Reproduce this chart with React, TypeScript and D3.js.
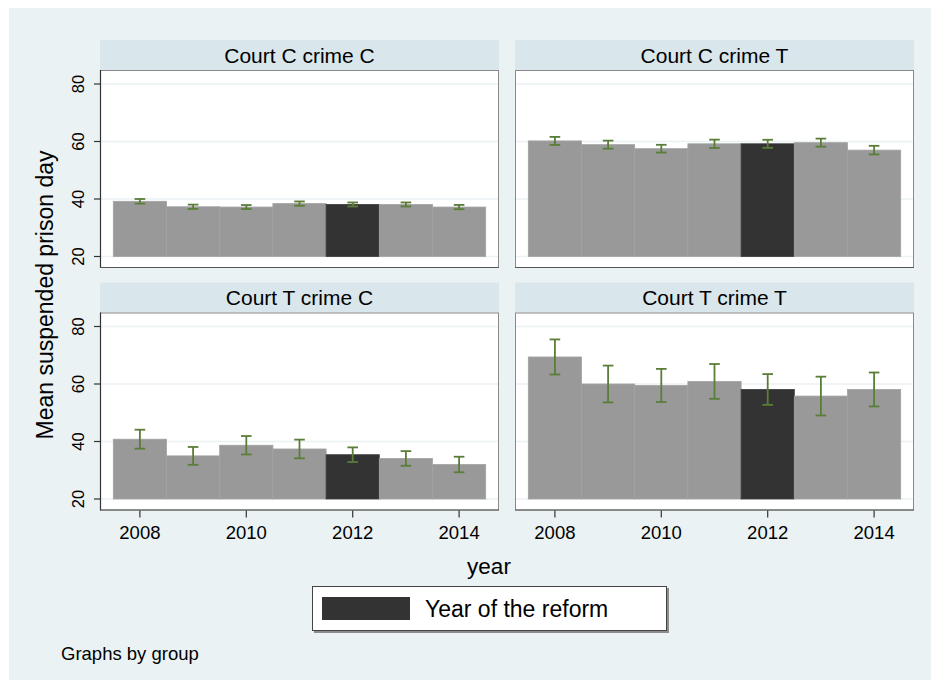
import React from "react";
import * as d3 from "d3";

const years = [2008, 2009, 2010, 2011, 2012, 2013, 2014];
const reformYear = 2012;
const panelTitles = ["Court C crime C", "Court C crime T", "Court T crime C", "Court T crime T"];
const meanCC = [39.2, 37.3, 37.2, 38.4, 38.1, 38.1, 37.2];
const ciCC = [0.8, 0.75, 0.7, 0.75, 0.7, 0.7, 0.75];
const meanCT = [60.2, 58.9, 57.5, 59.2, 59.2, 59.6, 57.0];
const ciCT = [1.4, 1.4, 1.35, 1.45, 1.4, 1.4, 1.5];
const meanTC = [40.8, 35.0, 38.7, 37.4, 35.4, 34.1, 32.0];
const ciTC = [3.3, 3.1, 3.2, 3.25, 2.55, 2.55, 2.7];
const meanTT = [69.4, 60.0, 59.5, 60.9, 58.1, 55.8, 58.1];
const ciTT = [6.1, 6.4, 5.75, 6.05, 5.35, 6.75, 5.9];
const yTicks = [20, 40, 60, 80];
const xTicks = [2008, 2010, 2012, 2014];
const yTitle = "Mean suspended prison day";
const xTitle = "year";
const legendLabel = "Year of the reform";
const note = "Graphs by group";

const means = [meanCC, meanCT, meanTC, meanTT];
const cis = [ciCC, ciCT, ciTC, ciTT];

const FONT = "'Liberation Sans', Arial, Helvetica, sans-serif";
const BG = "#eaf2f3";
const STRIP = "#d9e6eb";
const BAR = "#999999";
const BAR_DARK = "#333333";
const ERR = "#5a7d38";

const panelW = 399;
const colX = [100, 515];
const rowTop = [40, 282.5];
const stripH = 30;
const plotH = 198;

export default function App() {
  const panels = panelTitles.map((title, i) => {
    const col = i % 2;
    const row = Math.floor(i / 2);
    const x0 = colX[col];
    const top = rowTop[row];
    const pTop = top + stripH;
    const pBot = pTop + plotH;
    const x = d3.scaleLinear().domain([2007.25, 2014.75]).range([x0, x0 + panelW]);
    const y = d3.scaleLinear().domain([20, 80]).range([pTop + 186.5, pTop + 14]);
    const bw = x(2008.5) - x(2007.5);
    return (
      <g key={title}>
        <rect x={x0} y={top} width={panelW} height={stripH} fill={STRIP} />
        <text x={x0 + panelW / 2} y={top + 22.5} textAnchor="middle" fontSize={21} fill="#000">
          {title}
        </text>
        <rect x={x0 + 0.5} y={pTop + 0.5} width={panelW - 1} height={plotH - 1} fill="#fff" stroke="#8a8a8a" strokeWidth={1} />
        {yTicks.map((t) => (
          <line key={t} x1={x0 + 1} x2={x0 + panelW - 1} y1={y(t)} y2={y(t)} stroke={BG} strokeWidth={1.5} />
        ))}
        {years.map((yr, j) => (
          <rect
            key={yr}
            x={x(yr) - bw / 2}
            y={y(means[i][j])}
            width={bw}
            height={y(20) - y(means[i][j])}
            fill={yr === reformYear ? BAR_DARK : BAR}
            stroke={yr === reformYear ? "#3a3a3a" : "#a2a2a2"}
            strokeWidth={0.8}
          />
        ))}
        {years.map((yr, j) => {
          const lo = y(means[i][j] - cis[i][j]);
          const hi = y(means[i][j] + cis[i][j]);
          const cx = x(yr);
          return (
            <g key={"e" + yr} stroke={ERR} strokeWidth={1.8} fill="none">
              <line x1={cx} x2={cx} y1={lo} y2={hi} />
              <line x1={cx - 5.3} x2={cx + 5.3} y1={lo} y2={lo} />
              <line x1={cx - 5.3} x2={cx + 5.3} y1={hi} y2={hi} />
            </g>
          );
        })}
        {col === 0 && (
          <g>
            <line x1={x0 + 0.5} x2={x0 + 0.5} y1={pTop} y2={pBot} stroke="#333" strokeWidth={1.2} />
            {yTicks.map((t) => (
              <g key={"yt" + t}>
                <line x1={x0 - 6} x2={x0} y1={y(t)} y2={y(t)} stroke="#333" strokeWidth={1.2} />
                <text
                  transform={`translate(${x0 - 16},${y(t)}) rotate(-90)`}
                  textAnchor="middle"
                  fontSize={16.5}
                  fill="#000"
                >
                  {t}
                </text>
              </g>
            ))}
          </g>
        )}
        <line x1={x0} x2={x0 + panelW} y1={pBot - 0.5} y2={pBot - 0.5} stroke="#555" strokeWidth={1.2} />
        {row === 1 &&
          xTicks.map((t) => (
            <g key={"xt" + t}>
              <line x1={x(t)} x2={x(t)} y1={pBot} y2={pBot + 7} stroke="#333" strokeWidth={1.2} />
              <text x={x(t)} y={pBot + 28} textAnchor="middle" fontSize={18.5} fill="#000">
                {t}
              </text>
            </g>
          ))}
      </g>
    );
  });

  return (
    <svg
      width={935}
      height={684}
      style={{ position: "absolute", left: 0, top: 0, fontFamily: FONT }}
    >
      <rect x={0} y={0} width={935} height={684} fill="#fff" />
      <rect x={9} y={8} width={922} height={672} fill={BG} />
      {panels}
      <text transform="translate(53,295) rotate(-90)" textAnchor="middle" fontSize={23} fill="#000">
        {yTitle}
      </text>
      <text x={489} y={574} textAnchor="middle" fontSize={22.5} fill="#000">
        {xTitle}
      </text>
      <rect x={314} y={588} width={355} height={45} fill="#8c8c8c" />
      <rect x={312.5} y={586.5} width={354} height={44} fill="#fff" stroke="#444" strokeWidth={1} />
      <rect x={322} y={597} width={88} height={23} fill={BAR_DARK} />
      <text x={425} y={617} fontSize={23} fill="#000">
        {legendLabel}
      </text>
      <text x={61} y={660} fontSize={18.5} fill="#000">
        {note}
      </text>
    </svg>
  );
}
